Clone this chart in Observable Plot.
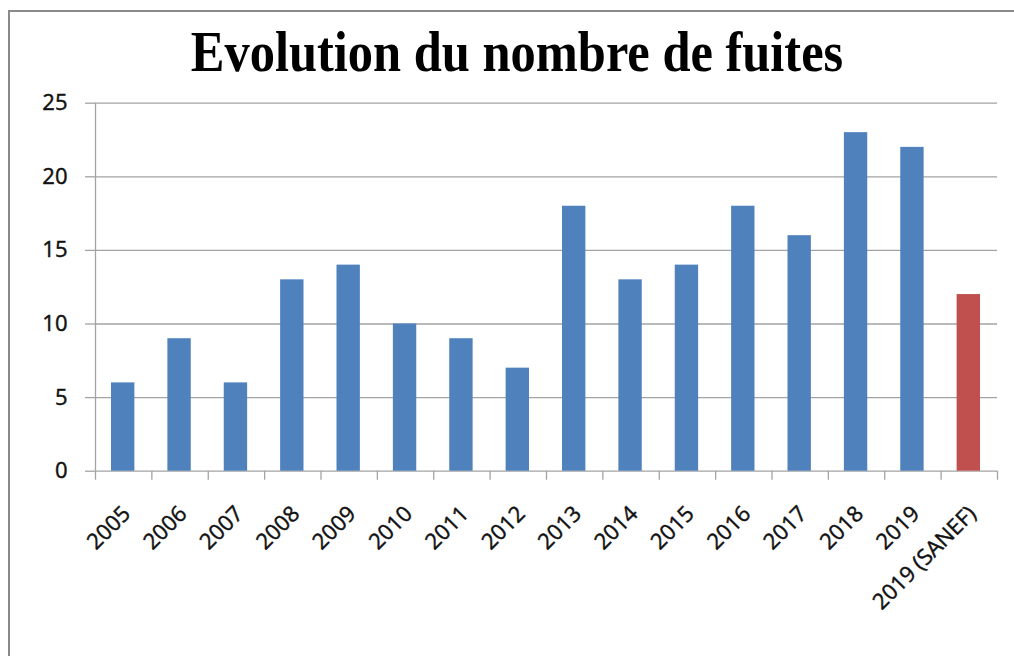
<!DOCTYPE html>
<html>
<head>
<meta charset="utf-8">
<script src="https://cdn.jsdelivr.net/npm/d3@7"></script>
<script src="https://cdn.jsdelivr.net/npm/@observablehq/plot@0.6"></script>
<style>
  html, body { margin: 0; padding: 0; background: #fff; }
  #wrap { position: relative; width: 1014px; height: 656px; overflow: hidden; background: #fff; }
  #border { position: absolute; left: 8px; top: 10px; width: 1100px; height: 700px;
            border-left: 2px solid #8a8a8a; border-top: 2px solid #8a8a8a; box-sizing: border-box; }
  #title { position: absolute; left: 0; top: 23px; width: 1034px; text-align: center;
           font-family: "Liberation Serif", "Times New Roman", serif; font-weight: bold;
           font-size: 58px; line-height: 58px; color: #000;
           transform: scaleX(0.87); transform-origin: 517px 0; white-space: nowrap; }
  #chart { position: absolute; left: 0; top: 80px; }
  #chart svg text { stroke: #111; stroke-width: 0.45px; }
</style>
</head>
<body>
<div id="wrap">
  <div id="border"></div>
  <div id="title">Evolution du nombre de fuites</div>
  <div id="chart"></div>
</div>
<script>
const categories = ["2005","2006","2007","2008","2009","2010","2011","2012","2013","2014","2015","2016","2017","2018","2019","2019 (SANEF)"];
const values = [6, 9, 6, 13, 14, 10, 9, 7, 18, 13, 14, 18, 16, 23, 22, 12];
const sources = ["Total","Total","Total","Total","Total","Total","Total","Total","Total","Total","Total","Total","Total","Total","Total","SANEF"];
const sourceDomain = ["Total", "SANEF"];
const sourceColors = ["#4f81bd", "#c0504d"];
const yTicks = [0, 5, 10, 15, 20, 25];

const data = categories.map((c, i) => ({cat: c, idx: i, value: values[i], source: sources[i]}));
const boundaries = d3.range(categories.length + 1);
const gray = "#a3a3a3";
const font = "'Open Sans', 'Liberation Sans', sans-serif";

const chart = Plot.plot({
  width: 1014,
  height: 576,
  marginLeft: 95,
  marginRight: 17,
  marginTop: 22.7,
  marginBottom: 185.3,
  style: {fontFamily: font, fontSize: "22px", color: "#111", background: "transparent"},
  x: {type: "linear", domain: [0, categories.length], axis: null},
  y: {domain: [0, 25], axis: null},
  color: {domain: sourceDomain, range: sourceColors},
  marks: [
    Plot.ruleY(yTicks, {stroke: gray, strokeWidth: 1.3}),
    Plot.axisY(yTicks, {tickSize: 10, tickPadding: 18, stroke: gray, strokeWidth: 1.3, fill: "#111", tickFormat: d => String(d), label: null, fontSize: 22}),
    Plot.ruleX([0], {stroke: gray, strokeWidth: 1.3}),
    Plot.axisX(boundaries, {tickSize: 9, stroke: gray, strokeWidth: 1.3, tickFormat: () => "", label: null}),
    Plot.rectY(data, {x1: d => d.idx, x2: d => d.idx + 1, y1: 0, y2: "value", fill: "source", insetLeft: 16, insetRight: 17}),
    Plot.text(data, {x: d => d.idx + 0.5, y: 0, text: "cat", rotate: -45, textAnchor: "end", lineAnchor: "bottom", dx: 8, dy: 44, fontSize: 22, fill: "#111"})
  ]
});
document.getElementById("chart").appendChild(chart);
</script>
</body>
</html>
